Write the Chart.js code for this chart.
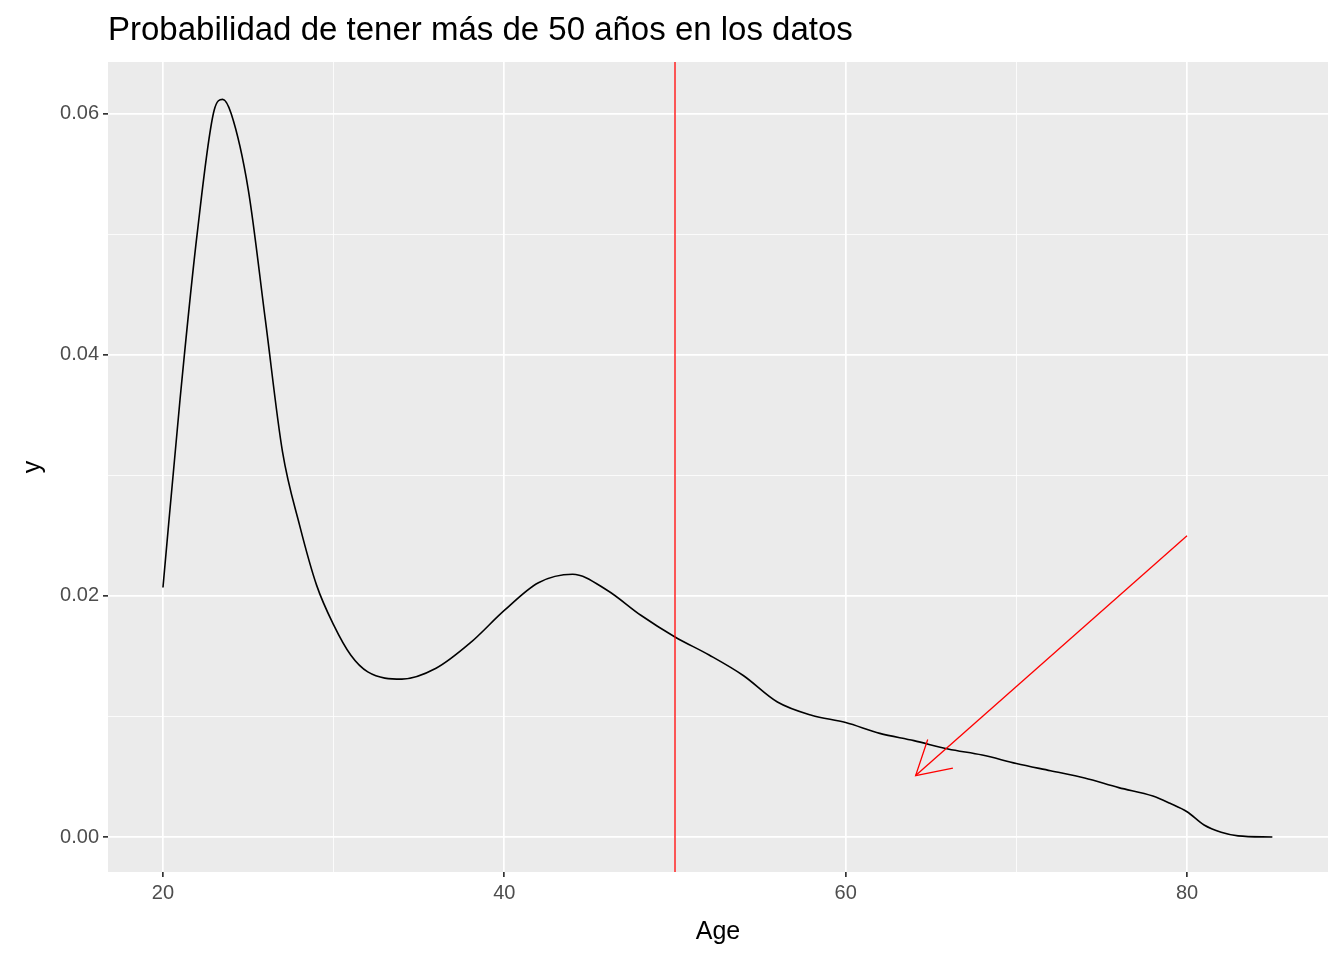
<!DOCTYPE html>
<html><head><meta charset="utf-8">
<script src="https://cdn.jsdelivr.net/npm/chart.js@4/dist/chart.umd.min.js"></script>
<style>html,body{margin:0;padding:0;background:#fff}#wrap{width:1344px;height:960px}</style>
</head><body><div id="wrap"><canvas id="c"></canvas></div>
<script>
const ages = [20,21,22,23,23.5,24,25,26,27,28,29,30,31,32,34,36,38,40,42,44,46,48,50,52,54,56,58,60,62,64,66,68,70,72,74,76,78,79,80,81,82,83,85];
const dens = [0.0207,0.0363,0.050,0.0603,0.0612,0.060,0.0537,0.0429,0.032,0.0259,0.0209,0.0176,0.0151,0.0137,0.0131,0.014,0.0161,0.0188,0.0211,0.0218,0.0205,0.0184,0.0166,0.0151,0.0134,0.0112,0.0101,0.0095,0.0086,0.008,0.0073,0.0068,0.0061,0.0055,0.0049,0.0041,0.0034,0.0028,0.0021,0.001,0.0004,0.0001,0];
const xTicks = [20,30,40,50,60,70,80];
const yTicks = [0,0.01,0.02,0.03,0.04,0.05,0.06];
const cutAge = 50;
const arrowFrom = [80, 0.025];
const arrowTo = [64.1, 0.0051];
const titleText = 'Probabilidad de tener más de 50 años en los datos';

const isMajorX = v => v % 20 === 0;
const isMajorY = v => Math.round(v * 100) % 2 === 0;

const overlay = {
  id: 'overlay',
  beforeDraw(chart) {
    const a = chart.chartArea, ctx = chart.ctx;
    ctx.save();
    ctx.fillStyle = '#EBEBEB';
    ctx.fillRect(a.left, a.top, a.right - a.left, a.bottom - a.top);
    ctx.restore();
  },
  afterDatasetsDraw(chart) {
    const a = chart.chartArea, ctx = chart.ctx;
    const sx = chart.scales.x, sy = chart.scales.y;
    ctx.save();
    ctx.strokeStyle = 'red';
    ctx.lineWidth = 1.3;
    const vx = sx.getPixelForValue(cutAge);
    ctx.beginPath(); ctx.moveTo(vx, a.top); ctx.lineTo(vx, a.bottom); ctx.stroke();
    const x1 = sx.getPixelForValue(arrowFrom[0]), y1 = sy.getPixelForValue(arrowFrom[1]);
    const x2 = sx.getPixelForValue(arrowTo[0]), y2 = sy.getPixelForValue(arrowTo[1]);
    ctx.beginPath(); ctx.moveTo(x1, y1); ctx.lineTo(x2, y2); ctx.stroke();
    const ang = Math.atan2(y2 - y1, x2 - x1), len = 38, spread = Math.PI / 6;
    ctx.beginPath();
    ctx.moveTo(x2 - len * Math.cos(ang - spread), y2 - len * Math.sin(ang - spread));
    ctx.lineTo(x2, y2);
    ctx.lineTo(x2 - len * Math.cos(ang + spread), y2 - len * Math.sin(ang + spread));
    ctx.stroke();
    // titles
    ctx.fillStyle = '#000';
    ctx.font = '33px Arial, "Liberation Sans", sans-serif';
    ctx.textBaseline = 'alphabetic';
    ctx.textAlign = 'left';
    ctx.fillText(titleText, a.left, 40);
    ctx.font = '25px Arial, "Liberation Sans", sans-serif';
    ctx.textAlign = 'center';
    ctx.fillText('Age', (a.left + a.right) / 2, 939);
    ctx.translate(40, (a.top + a.bottom) / 2);
    ctx.rotate(-Math.PI / 2);
    ctx.fillText('y', 0, 0);
    ctx.restore();
  }
};

const gridOpts = major => ({
  color: '#FFFFFF',
  lineWidth: c => (c.tick && major(c.tick.value)) ? 1.7 : 0.8,
  tickColor: c => (c.tick && major(c.tick.value)) ? '#333333' : 'rgba(0,0,0,0)',
  tickLength: 5,
  drawOnChartArea: true
});
const tickFont = { family: 'Arial, "Liberation Sans", sans-serif', size: 20 };

new Chart(document.getElementById('c'), {
  type: 'line',
  data: { datasets: [{
    data: ages.map((a, i) => ({ x: a, y: dens[i] })),
    borderColor: '#000', borderWidth: 1.6, pointRadius: 0, fill: false,
    cubicInterpolationMode: 'monotone'
  }]},
  options: {
    responsive: true, maintainAspectRatio: false, animation: false,
    layout: { padding: { top: 62, right: 16, left: 0, bottom: 0 } },
    plugins: { legend: { display: false }, tooltip: { enabled: false } },
    scales: {
      x: {
        type: 'linear', min: 16.78, max: 88.26,
        afterBuildTicks: s => { s.ticks = xTicks.map(v => ({ value: v })); },
        afterFit: s => { s.height = 88; },
        grid: gridOpts(isMajorX), border: { display: false },
        ticks: { color: '#4D4D4D', font: tickFont, padding: 4, maxRotation: 0,
          callback: v => isMajorX(v) ? String(v) : '' }
      },
      y: {
        type: 'linear', min: -0.0029, max: 0.0643,
        afterBuildTicks: s => { s.ticks = yTicks.map(v => ({ value: v })); },
        afterFit: s => { s.width = 108; },
        grid: gridOpts(isMajorY), border: { display: false },
        ticks: { color: '#4D4D4D', font: tickFont, padding: 4,
          callback: v => isMajorY(v) ? v.toFixed(2) : '' }
      }
    }
  },
  plugins: [overlay]
});
</script></body></html>
